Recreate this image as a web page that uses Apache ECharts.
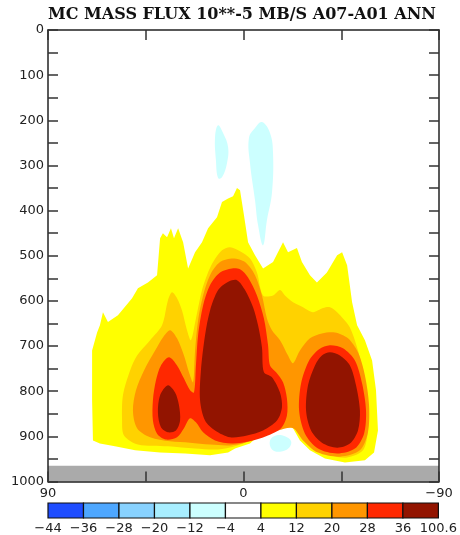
<!DOCTYPE html>
<html>
<head>
<meta charset="utf-8">
<script src="https://cdn.jsdelivr.net/npm/echarts@6/dist/echarts.min.js"></script>
<style>
  html, body { margin: 0; padding: 0; background: #fff; }
  #chart { width: 460px; height: 535px; }
</style>
</head>
<body>
<div id="chart"></div>
<script>
const titleText = 'MC MASS FLUX 10**-5 MB/S A07-A01 ANN'

// contour bands, each polygon is a list of [latitude, pressure mb]
const band4 = [[
  [66.1, 654], [64.7, 625], [62.4, 647], [57.8, 632], [51.3, 594], [48.6, 572], [44.0, 559], [39.8, 543],
  [38.4, 461], [37.1, 450], [35.2, 459], [33.4, 439], [32.0, 461], [30.1, 439], [27.8, 470], [25.5, 528],
  [22.3, 492], [19.1, 470], [16.3, 439], [12.2, 415], [9.9, 381], [7.1, 373], [4.8, 368], [3.0, 350],
  [1.6, 355], [-0.2, 410], [-2.1, 470], [-5.3, 499], [-9.0, 528], [-13.6, 514], [-18.2, 470], [-20.5, 492],
  [-24.6, 483], [-26.9, 514], [-30.6, 543], [-33.8, 559], [-38.4, 537], [-43.1, 499], [-45.4, 492],
  [-47.7, 521], [-50.0, 603], [-52.3, 654], [-55.9, 687], [-59.2, 732], [-61.0, 798], [-61.9, 887],
  [-60.1, 936], [-55.9, 953], [-46.7, 958], [-37.5, 949], [-30.6, 931], [-26.0, 909], [-22.8, 882],
  [-20.5, 878], [-14.5, 880], [-8.5, 891], [-3.0, 916], [3.9, 927], [7.1, 936], [15.4, 942], [26.9, 938],
  [38.4, 936], [49.9, 931], [59.2, 922], [66.1, 916], [69.3, 909], [69.7, 820], [69.7, 710], [67.4, 670]
]]
const band12 = [[
  [49.0, 721], [43.0, 687], [37.5, 654], [34.8, 599], [32.9, 581], [30.6, 594], [28.3, 621], [26.0, 665],
  [24.2, 687], [21.9, 639], [19.1, 576], [16.8, 543], [14.0, 514], [9.9, 488], [6.2, 481], [1.6, 490],
  [-3.0, 506], [-6.2, 537], [-9.0, 588], [-13.6, 588], [-16.8, 576], [-19.1, 588], [-22.8, 603],
  [-27.4, 614], [-32.0, 625], [-36.6, 616], [-39.8, 614], [-43.1, 625], [-45.8, 639], [-49.0, 659],
  [-52.3, 703], [-55.0, 754], [-57.3, 827], [-57.3, 887], [-55.0, 931], [-47.7, 947], [-39.8, 942],
  [-32.0, 927], [-26.0, 894], [-22.8, 871], [-19.1, 865], [-13.1, 869], [-7.6, 882], [-2.1, 909],
  [3.9, 922], [11.7, 929], [22.3, 927], [34.8, 922], [48.6, 918], [55.0, 898], [55.9, 865], [55.5, 809],
  [52.2, 754]
]]
const band20 = [[
  [4.8, 506], [-0.7, 514], [-5.3, 543], [-8.5, 588], [-10.8, 639], [-13.1, 665], [-16.8, 687], [-20.5, 721],
  [-22.8, 738], [-26.0, 710], [-30.6, 683], [-36.1, 672], [-42.1, 670], [-48.1, 683], [-52.7, 714],
  [-55.9, 765], [-57.8, 831], [-57.3, 891], [-53.6, 931], [-44.4, 945], [-34.3, 936], [-27.4, 909],
  [-22.8, 882], [-15.9, 887], [-8.5, 900], [-0.7, 914], [6.2, 920], [15.4, 918], [24.6, 914], [33.8, 911],
  [43.0, 902], [49.0, 882], [50.9, 843], [49.5, 798], [45.8, 754], [40.7, 710], [37.1, 681], [33.8, 665],
  [30.6, 683], [27.4, 721], [25.1, 758], [23.2, 780], [22.3, 710], [20.9, 643], [18.6, 588], [15.4, 543],
  [10.8, 514]
]]
const band28 = [[
  [5.3, 528], [10.8, 537], [15.4, 565], [18.6, 610], [20.9, 676], [21.9, 743], [22.8, 803], [24.6, 798],
  [27.4, 772], [30.6, 743], [34.3, 725], [38.0, 743], [40.3, 776], [41.7, 820], [41.7, 865], [39.8, 894],
  [35.7, 907], [30.6, 902], [27.4, 882], [24.6, 860], [21.9, 869], [18.6, 891], [13.1, 909], [5.3, 916],
  [-3.0, 911], [-10.4, 900], [-17.3, 882], [-20.0, 854], [-20.0, 816], [-18.2, 780], [-15.0, 758],
  [-12.2, 743], [-11.3, 698], [-9.4, 639], [-6.2, 588], [-2.1, 548], [1.6, 530]
], [
  [-39.8, 698], [-45.8, 705], [-51.3, 732], [-54.6, 783], [-56.4, 843], [-55.5, 894], [-51.3, 927],
  [-43.1, 938], [-34.3, 927], [-28.3, 894], [-25.6, 843], [-26.5, 783], [-30.2, 732], [-34.8, 707]
]]
const band36 = [[
  [7.6, 559], [3.0, 554], [-0.7, 576], [-4.4, 614], [-6.7, 654], [-8.5, 703], [-9.4, 758], [-13.1, 769],
  [-16.8, 803], [-17.7, 836], [-15.4, 865], [-9.0, 887], [-1.6, 898], [6.2, 902], [13.1, 887], [17.7, 865],
  [20.0, 820], [19.6, 754], [17.7, 676], [15.4, 621], [11.7, 576]
], [
  [34.8, 787], [31.5, 803], [29.7, 831], [29.2, 865], [31.1, 887], [34.8, 891], [38.0, 880], [39.4, 847],
  [38.4, 809]
], [
  [-39.8, 714], [-44.4, 721], [-49.0, 743], [-51.8, 787], [-53.6, 843], [-52.7, 887], [-49.0, 916],
  [-43.1, 925], [-36.1, 914], [-31.1, 887], [-28.8, 843], [-29.7, 787], [-32.9, 743], [-36.1, 721]
]]
const bandNeg4 = [[
  [11.7, 211], [9.4, 228], [7.1, 259], [7.6, 295], [9.9, 326], [11.7, 328], [12.7, 288], [13.1, 237]
], [
  [-8.5, 204], [-12.2, 228], [-13.6, 273], [-13.1, 361], [-10.8, 421], [-9.0, 477], [-6.7, 432],
  [-5.3, 377], [-3.0, 295], [-2.5, 239], [-5.3, 217]
], [
  [-12.2, 909], [-15.0, 898], [-19.1, 900], [-21.9, 911], [-21.0, 925], [-16.8, 934], [-13.1, 929]
]]
const groundTop = 965

// colour bar
const barColors = ['#1f4dff', '#4ea7ff', '#88d2ff', '#a8eeff', '#ccffff', '#ffffff',
  '#ffff00', '#ffd200', '#ff9600', '#ff2800', '#921400']
const barLabels = ['−44', '−36', '−28', '−20', '−12', '−4', '4', '12', '20', '28', '36', '100.6']

const chart = echarts.init(document.getElementById('chart'))

const labelFont = { fontFamily: 'DejaVu Sans', fontSize: 13, color: '#222' }
const lineStyle = { color: '#222', width: 1.5 }
const tickStyle = { inside: true, length: 10, lineStyle: { color: '#333', width: 1.5 } }

function bandSeries(polys, color, smooth) {
  return {
    type: 'custom',
    xAxisIndex: 0,
    yAxisIndex: 0,
    data: polys.map(p => p[0]),
    renderItem: (params, api) => ({
      type: 'polygon',
      shape: { points: polys[params.dataIndex].map(pt => api.coord(pt)), smooth: smooth },
      style: { fill: color }
    }),
    silent: true
  }
}

const option = {
  animation: false,
  graphic: [{
    type: 'text',
    x: 242,
    y: 15,
    style: {
      text: titleText,
      textAlign: 'center',
      textVerticalAlign: 'middle',
      font: 'bold 16px "DejaVu Serif"',
      fill: '#111'
    }
  }],
  grid: [
    { left: 48, top: 30, width: 391, height: 451.5 },
    { left: 48, top: 503, width: 391, height: 16 }
  ],
  xAxis: [{
    type: 'value', gridIndex: 0, min: -90, max: 90, interval: 45, inverse: true, position: 'bottom', z: 10,
    axisLine: { onZero: false, lineStyle: lineStyle },
    axisTick: tickStyle,
    axisLabel: Object.assign({ margin: 6, formatter: v => (v === 90 ? '90' : v === 0 ? '0' : v === -90 ? '−90' : '') }, labelFont),
    splitLine: { show: false }
  }, {
    type: 'value', gridIndex: 0, min: -90, max: 90, interval: 45, inverse: true, position: 'top', z: 10,
    axisLine: { onZero: false, lineStyle: lineStyle },
    axisTick: tickStyle,
    axisLabel: { show: false },
    splitLine: { show: false }
  }, {
    type: 'value', gridIndex: 1, min: 0, max: 11, interval: 1,
    axisLine: { show: false },
    axisTick: { show: false },
    axisLabel: Object.assign({ margin: 4, formatter: v => barLabels[v] }, labelFont),
    splitLine: { show: false }
  }],
  yAxis: [{
    type: 'value', gridIndex: 0, min: 0, max: 1000, interval: 50, inverse: true, position: 'left', z: 10,
    axisLine: { onZero: false, lineStyle: lineStyle },
    axisTick: tickStyle,
    axisLabel: Object.assign({ margin: 4, formatter: v => (v % 100 === 0 ? String(v) : '') }, labelFont),
    splitLine: { show: false }
  }, {
    type: 'value', gridIndex: 0, min: 0, max: 1000, interval: 50, inverse: true, position: 'right', z: 10,
    axisLine: { onZero: false, lineStyle: lineStyle },
    axisTick: tickStyle,
    axisLabel: { show: false },
    splitLine: { show: false }
  }, {
    type: 'value', gridIndex: 1, min: 0, max: 1, show: false
  }],
  series: [
    bandSeries(band4, '#ffff00', 0),
    bandSeries(band12, '#ffd200', 0.3),
    bandSeries(band20, '#ff9600', 0.3),
    bandSeries(band28, '#ff2800', 0.3),
    bandSeries(band36, '#921400', 0.3),
    bandSeries(bandNeg4, '#ccffff', 0.4),
    {
      // below-ground band
      type: 'custom',
      xAxisIndex: 0,
      yAxisIndex: 0,
      data: [[90, groundTop]],
      renderItem: (params, api) => {
        const a = api.coord([90, groundTop])
        const b = api.coord([-90, 1000])
        return { type: 'rect', shape: { x: a[0], y: a[1], width: b[0] - a[0], height: b[1] - a[1] }, style: { fill: '#aaaaaa' } }
      },
      silent: true
    },
    {
      type: 'custom',
      xAxisIndex: 2,
      yAxisIndex: 2,
      data: barColors.map((c, i) => [i, 0]),
      renderItem: (params, api) => {
        const i = params.dataIndex
        const a = api.coord([i, 1])
        const b = api.coord([i + 1, 0])
        return {
          type: 'rect',
          shape: { x: a[0], y: a[1], width: b[0] - a[0], height: b[1] - a[1] },
          style: { fill: barColors[i], stroke: '#111', lineWidth: 1.2 }
        }
      },
      silent: true
    }
  ]
}

chart.setOption(option, true)
</script>
</body>
</html>
